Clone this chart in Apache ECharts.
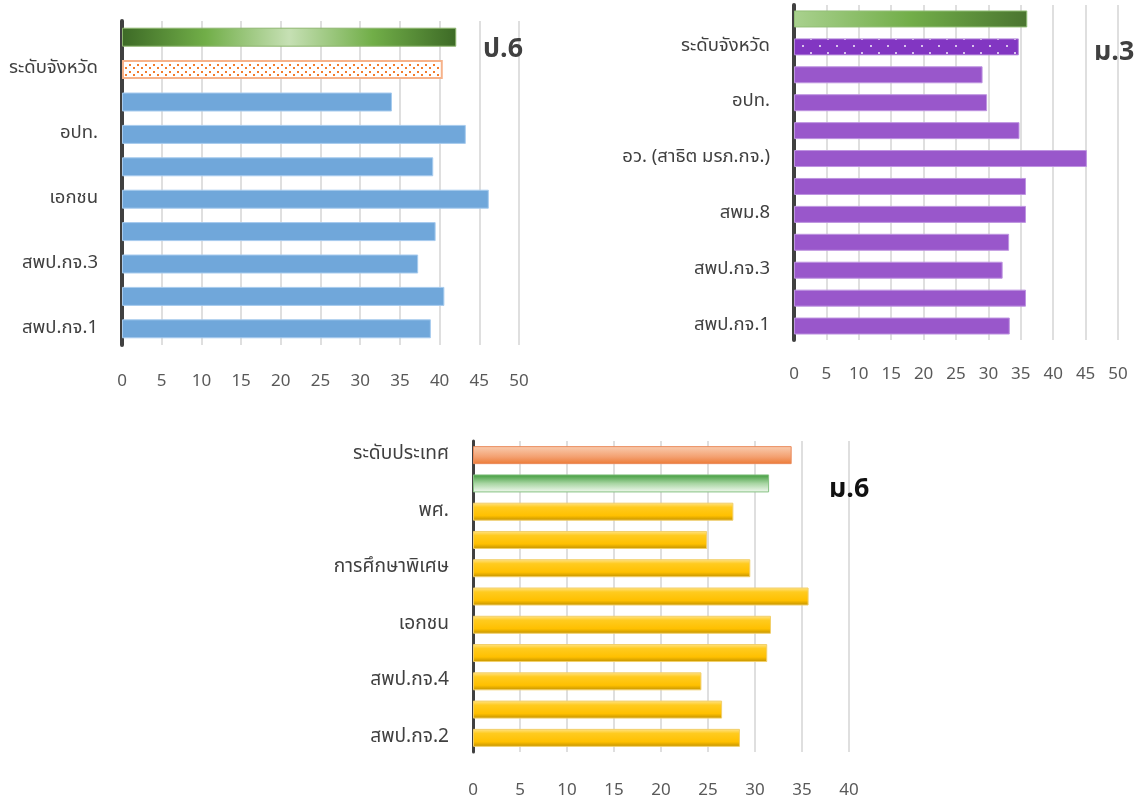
<!DOCTYPE html>
<html>
<head>
<meta charset="utf-8">
<script src="https://cdn.jsdelivr.net/npm/echarts@6/dist/echarts.min.js"></script>
<style>
html,body{margin:0;padding:0;background:#fff;}
#chart{width:1140px;height:800px;}
</style>
</head>
<body>
<div id="chart"></div>
<script>
// ---------- DATA (bottom to top order, as ECharts category axis) ----------
const p6Categories = ['สพป.กจ.1','สพป.กจ.2','สพป.กจ.3','สพป.กจ.4','เอกชน','ตชด.','อปท.','สพม.8','ระดับจังหวัด','ระดับประเทศ'];
const p6Values     = [38.9, 40.6, 37.3, 39.5, 46.2, 39.2, 43.3, 34.0, 40.4, 42.1];

const m3Categories = ['สพป.กจ.1','สพป.กจ.2','สพป.กจ.3','สพป.กจ.4','สพม.8','เอกชน','อว. (สาธิต มรภ.กจ.)','การศึกษาพิเศษ','อปท.','พศ.','ระดับจังหวัด','ระดับประเทศ'];
const m3Values     = [33.3, 35.8, 32.2, 33.2, 35.8, 35.8, 45.2, 34.8, 29.8, 29.1, 34.7, 36.0];

const m6Categories = ['สพป.กจ.2','สพป.กจ.3','สพป.กจ.4','สพม.8','เอกชน','อปท.','การศึกษาพิเศษ','อว. (สาธิต มรภ.กจ.)','พศ.','ระดับจังหวัด','ระดับประเทศ'];
const m6Values     = [28.4, 26.5, 24.3, 31.3, 31.7, 35.7, 29.5, 24.9, 27.7, 31.5, 33.9];

const xTicksP6 = {min: 0, max: 50, interval: 5};
const xTicksM3 = {min: 0, max: 50, interval: 5};
const xTicksM6 = {min: 0, max: 40, interval: 5};

const titles = ['ป.6', 'ม.3', 'ม.6'];

// ---------- helpers ----------
const FONT = "Tahoma, 'Leelawadee UI', 'Noto Sans Thai', 'Noto Sans', 'DejaVu Sans', sans-serif";

function fitSize(text, targetW, weight, lo, hi) {
  const ctx = document.createElement('canvas').getContext('2d');
  ctx.font = (weight || 'normal') + ' 100px ' + FONT;
  const w = ctx.measureText(text).width;
  return Math.max(lo, Math.min(hi, 100 * targetW / w));
}
const ySizeTop = fitSize('ระดับจังหวัด', 89, 'normal', 12, 24);
const ySizeBottom = fitSize('ระดับประเทศ', 96, 'normal', 12, 24);
const titleSize = fitSize('ป.6', 40, 'bold', 24, 32);

function dotPattern(bg, dot, w, h, pts, r) {
  const c = document.createElement('canvas');
  c.width = w; c.height = h;
  const ctx = c.getContext('2d');
  ctx.fillStyle = bg; ctx.fillRect(0, 0, w, h);
  ctx.fillStyle = dot;
  pts.forEach(p => ctx.fillRect(p[0], p[1], r, r));
  return {image: c, repeat: 'repeat'};
}
const orangeDots = dotPattern('#ffffff', '#F27C2C', 8, 7, [[1,1],[5,4]], 2);
const purpleDots = dotPattern('#8236C2', '#D9C2EE', 17, 14, [[3,3],[11,10]], 2);

function lg(x, y, x2, y2, stops) {
  return new echarts.graphic.LinearGradient(x, y, x2, y2, stops.map(s => ({offset: s[0], color: s[1]})));
}

const p6Styles = p6Values.map((v, i) => {
  if (i === 9) return {color: lg(0,0,1,0,[[0,'#3D6A26'],[0.25,'#71AE48'],[0.5,'#C6E0B4'],[0.75,'#71AE48'],[1,'#3D6A26']]), borderColor:'#8DB56F', borderWidth:1};
  if (i === 8) return {color: orangeDots, borderColor:'#F6B28A', borderWidth:2};
  return {color:'#70A7DA', borderColor:'#A7CBEE', borderWidth:1};
});
const m3Styles = m3Values.map((v, i) => {
  if (i === 11) return {color: lg(0,0,1,0,[[0,'#A9D18E'],[0.5,'#72AE49'],[1,'#4A7530']]), borderColor:'#93BF78', borderWidth:1};
  if (i === 10) return {color: purpleDots, borderColor:'#B68BDA', borderWidth:1};
  return {color:'#9957CB', borderColor:'#BE94E0', borderWidth:1};
});
const m6Styles = m6Values.map((v, i) => {
  if (i === 10) return {color: lg(0,0,0,1,[[0,'#F9CDB0'],[0.6,'#F3A070'],[1,'#EC7A35']]), borderColor:'#EA8B5C', borderWidth:1};
  if (i === 9) return {color: lg(0,0,0,1,[[0,'#3E9A3A'],[0.5,'#A7D5A2'],[1,'#F4FAF2']]), borderColor:'#86C283', borderWidth:1};
  return {color: lg(0,0,0,1,[[0,'#FFE48C'],[0.25,'#FFCB1F'],[0.72,'#FFC000'],[1,'#BF9000']]), borderColor:'#F2CF6A', borderWidth:1};
});

function mk(values, styles) {
  return values.map((v, i) => ({value: v, itemStyle: styles[i]}));
}

function xAxis(gi, t, margin) {
  return {
    type: 'value', gridIndex: gi, min: t.min, max: t.max, interval: t.interval,
    axisLine: {show: false}, axisTick: {show: false},
    splitLine: {show: true, lineStyle: {color: '#D4D4D4', width: 1.5}},
    axisLabel: {color: '#595959', fontSize: 17, fontFamily: FONT, margin: margin}
  };
}
function yAxis(gi, cats, w, size) {
  return {
    type: 'category', gridIndex: gi, data: cats,
    axisLine: {show: true, lineStyle: {color: '#404040', width: w}},
    axisTick: {show: false},
    axisLabel: {interval: 1, color: '#404040', fontSize: size, fontFamily: FONT, margin: 24}
  };
}
function titleText(txt, x, top, color) {
  return {type: 'text', left: x, top: top, z: 10,
          style: {text: txt, fill: color, font: 'bold ' + titleSize.toFixed(1) + 'px ' + FONT}};
}

const chart = echarts.init(document.getElementById('chart'), null, {renderer: 'canvas'});
chart.setOption({
  animation: false,
  backgroundColor: '#ffffff',
  graphic: [
    titleText(titles[0], 483, 38, '#404040'),
    titleText(titles[1], 1094, 41, '#404040'),
    titleText(titles[2], 829, 478, '#111111')
  ],
  grid: [
    {left: 122, top: 21, width: 397, height: 324},
    {left: 794, top: 5, width: 324, height: 335},
    {left: 473, top: 441, width: 376, height: 315}
  ],
  xAxis: [xAxis(0, xTicksP6, 29), xAxis(1, xTicksM3, 27), xAxis(2, xTicksM6, 31)],
  yAxis: [yAxis(0, p6Categories, 4, ySizeTop), yAxis(1, m3Categories, 4, ySizeTop), yAxis(2, m6Categories, 3, ySizeBottom)],
  series: [
    {type: 'bar', xAxisIndex: 0, yAxisIndex: 0, barWidth: 19, data: mk(p6Values, p6Styles)},
    {type: 'bar', xAxisIndex: 1, yAxisIndex: 1, barWidth: 17, data: mk(m3Values, m3Styles)},
    {type: 'bar', xAxisIndex: 2, yAxisIndex: 2, barWidth: 18, data: mk(m6Values, m6Styles)}
  ]
});
</script>
</body>
</html>
